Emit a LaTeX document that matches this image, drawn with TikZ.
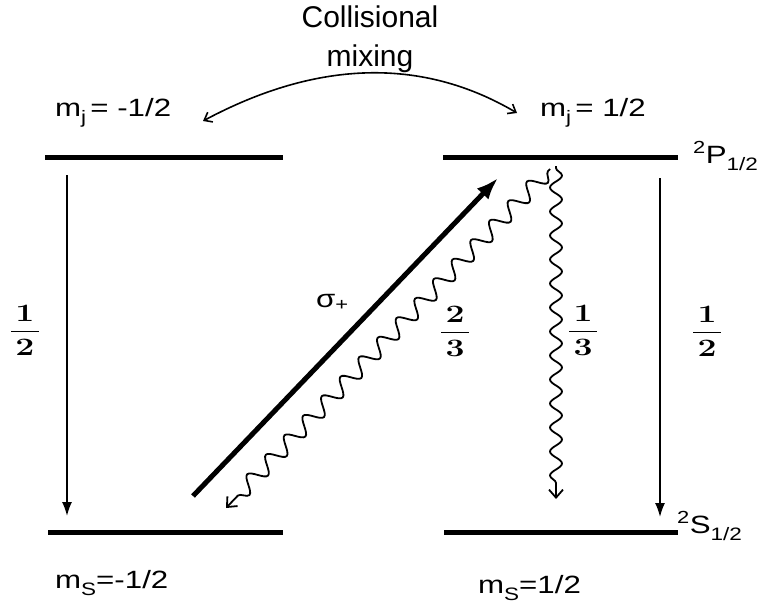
\documentclass[tikz,border=0pt]{standalone}
\usepackage{amsmath}
\usepackage[no-math]{fontspec}
\setmainfont{Liberation Sans}
\newfontfamily\lblfont[FakeStretch=1.25]{Liberation Sans}
\newfontfamily\fracfont[FakeStretch=1.35]{Latin Modern Roman}
\newcommand\lsub[1]{\raisebox{-7pt}{\fontsize{18}{18}\selectfont #1}}
\newcommand\bfrac[2]{$\dfrac{\text{\fracfont\bfseries\,#1\,}}{\text{\fracfont\bfseries\,#2\,}}$}
\usetikzlibrary{arrows.meta, decorations.pathmorphing}

\tikzset{
  level/.style={line width=5pt},
  decay/.style={line width=1.6pt, -{Latex[length=14pt,width=10pt]}},
  pump/.style={line width=5pt, -{Latex[length=22pt,width=16pt]}},
  wavy/.style={line width=1.8pt, -{Straight Barb[length=8pt,width=14pt]}},
  mixarr/.style={line width=1.6pt, {Straight Barb[length=7pt,width=11pt]}-{Straight Barb[length=7pt,width=11pt]}},
  lbl/.style={font=\lblfont\fontsize{25}{28}\selectfont, inner sep=0pt, anchor=base west},
  frc/.style={font=\fontsize{25}{30}\selectfont, inner sep=0pt}
}

\begin{document}
\begin{tikzpicture}[x=1pt, y=-1pt]
\path[fill=white, use as bounding box] (0,0) rectangle (762,607);
\coordinate (A1) at (45,157);
\coordinate (A2) at (283,157);
\coordinate (B1) at (443,157);
\coordinate (B2) at (678,157);
\coordinate (C1) at (48,532);
\coordinate (C2) at (283,532);
\coordinate (D1) at (444,532);
\coordinate (D2) at (678,532);
\draw[level] (A1) -- (A2);
\draw[level] (B1) -- (B2);
\draw[level] (C1) -- (C2);
\draw[level] (D1) -- (D2);
\coordinate (L1) at (67,175);
\coordinate (L2) at (67,516);
\coordinate (R1) at (660,178);
\coordinate (R2) at (660,517);
\draw[decay] (L1) -- (L2);
\draw[decay] (R1) -- (R2);
\coordinate (S1) at (193,496);
\coordinate (S2) at (498,178);
\draw[pump] (S1) -- (S2);
\coordinate (W1) at (550,169);
\coordinate (W2) at (226,508);
\draw[wavy, decoration={snake, amplitude=8pt, segment length=27pt, pre length=3pt, post length=12pt}, decorate] (W1) -- (W2);
\coordinate (V1) at (556,166);
\coordinate (V2) at (556,499);
\draw[wavy, decoration={snake, amplitude=6pt, segment length=24pt, pre length=2pt, post length=12pt}, decorate] (V1) -- (V2);
\coordinate (M1) at (517,113);
\coordinate (M2) at (203,121);
\draw[mixarr] (M1) .. controls (422,57) and (317,60) .. (M2);
\node[font=\fontsize{30}{39}\selectfont, align=center, inner sep=0pt, anchor=north] (mix) at (370,6) {Collisional\\mixing};
\node[lbl] (mjl) at (55,117) {m\lsub{j}\,= -1/2};
\node[lbl] (mjr) at (540,117) {m\lsub{j}\,= 1/2};
\node[lbl] (Plbl) at (693,163) {\textsuperscript{2}P\lsub{1/2}};
\node[lbl] (Slbl) at (677,533) {\textsuperscript{2}S\lsub{1/2}};
\node[lbl] (msl) at (55,588) {m\lsub{S}=-1/2};
\node[lbl] (msr) at (478,593) {m\lsub{S}=1/2};
\node[lbl] (sig) at (316,307) {σ\textsubscript{+}};
\node[frc] (fL) at (25,330) {\bfrac{1}{2}};
\node[frc] (f23) at (455,331) {\bfrac{2}{3}};
\node[frc] (f13) at (583,330) {\bfrac{1}{3}};
\node[frc] (fR) at (707,331) {\bfrac{1}{2}};
\end{tikzpicture}
\end{document}
